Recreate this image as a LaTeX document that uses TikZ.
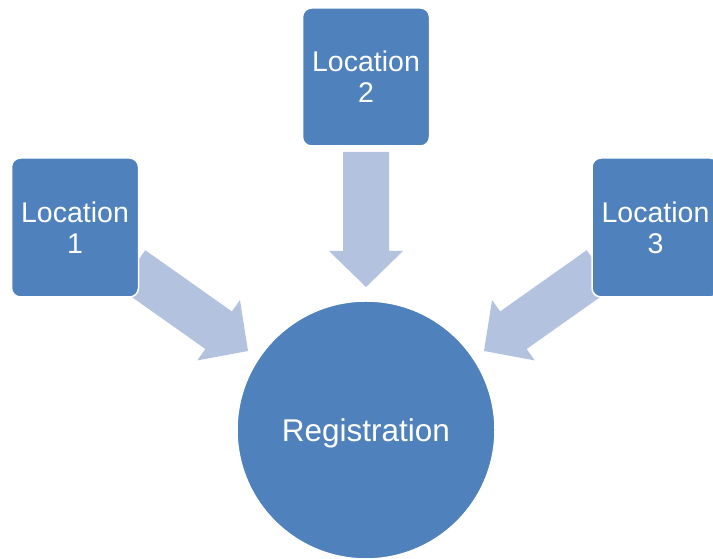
\documentclass[tikz,border=0pt]{standalone}
\usepackage{fontspec}
\setmainfont{Liberation Sans}
\usetikzlibrary{calc}
\definecolor{boxblue}{HTML}{4F81BD}
\definecolor{arrowblue}{HTML}{B3C2DE}
\newcommand{\blockarrow}[2]{%
  \coordinate (ba-b) at ($(#2)!36pt!(#1)$);
  \fill[arrowfill] ($(#1)!23pt!90:(#2)$) -- ($(ba-b)!23pt!90:(#2)$) -- ($(ba-b)!37pt!90:(#2)$) -- (#2)
    -- ($(ba-b)!37pt!-90:(#2)$) -- ($(ba-b)!23pt!-90:(#2)$) -- ($(#1)!23pt!-90:(#2)$) -- cycle;}
\begin{document}
\begin{tikzpicture}[x=1pt,y=1pt,
  locbox/.style={fill=boxblue, draw=white, line width=1.5pt, rounded corners=9pt,
    minimum width=127pt, minimum height=139pt, inner sep=0pt, text=white, align=center,
    font=\fontsize{28.5}{31}\selectfont},
  regcircle/.style={circle, fill=boxblue, draw=white, line width=1.5pt, minimum size=258pt,
    inner sep=0pt, text=white, text depth=0pt, font=\fontsize{31.5}{35}\selectfont},
  arrowfill/.style={fill=arrowblue}]
\useasboundingbox (0,0) rectangle (713,559);
\clip (0,0) rectangle (713,559);
% arrow ends
\coordinate (t1) at (132,290);
\coordinate (h1) at (248,208);
\coordinate (t2) at (366,407);
\coordinate (h2) at (366,272);
\coordinate (t3) at (600,290);
\coordinate (h3) at (484,208);
\blockarrow{t1}{h1}
\blockarrow{t2}{h2}
\blockarrow{t3}{h3}
% nodes
\node[locbox] (loc1) at (75,331.5) {Location\\1};
\node[locbox, minimum height=138pt] (loc2) at (366,482) {Location\\2};
\node[locbox] (loc3) at (655.5,331.5) {Location\\3};
\node[regcircle] (reg) at (366,129) {Registration};
\end{tikzpicture}
\end{document}
